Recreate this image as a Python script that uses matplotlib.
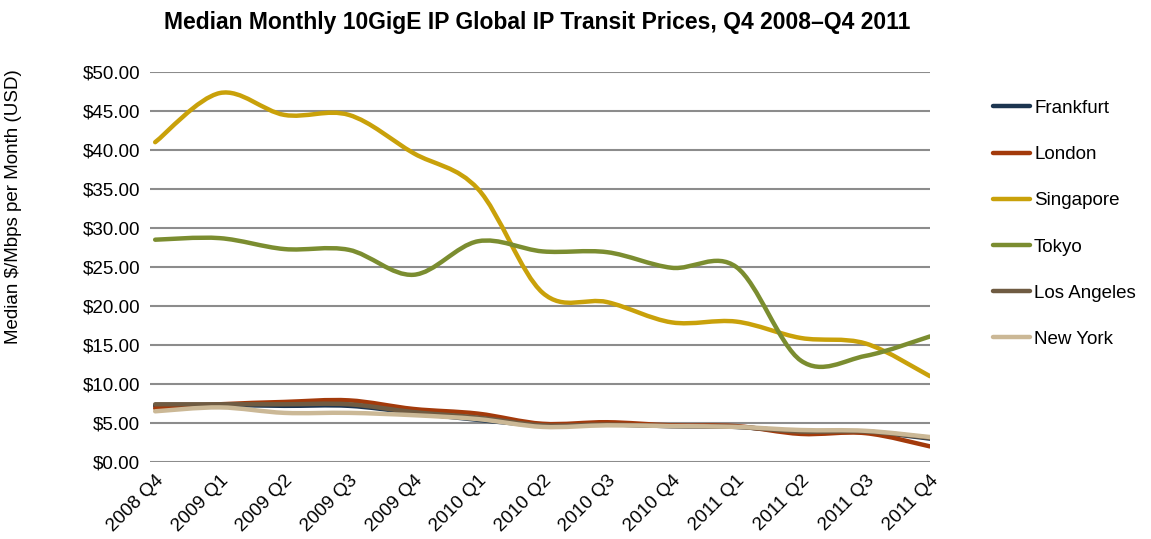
import numpy as np
from matplotlib import pyplot as plt
from matplotlib.path import Path
from matplotlib.patches import PathPatch
from matplotlib.lines import Line2D

plt.rcParams['font.family'] = ['Liberation Sans', 'DejaVu Sans']

quarters = ['2008 Q4', '2009 Q1', '2009 Q2', '2009 Q3', '2009 Q4', '2010 Q1', '2010 Q2',
            '2010 Q3', '2010 Q4', '2011 Q1', '2011 Q2', '2011 Q3', '2011 Q4']

frankfurt = [7.2, 7.3, 7.2, 7.2, 6.3, 5.4, 4.7, 4.8, 4.6, 4.5, 3.9, 3.9, 3.0]
london = [6.9, 7.4, 7.7, 7.9, 6.8, 6.2, 4.9, 5.1, 4.7, 4.6, 3.6, 3.7, 2.0]
singapore = [41.0, 47.3, 44.5, 44.5, 39.6, 35.0, 21.7, 20.5, 17.9, 18.0, 15.9, 15.2, 11.0]
tokyo = [28.5, 28.7, 27.3, 27.2, 24.0, 28.3, 27.0, 26.9, 24.9, 25.0, 13.0, 13.6, 16.1]
los_angeles = [7.4, 7.4, 7.4, 7.4, 6.4, 5.7, 4.7, 4.8, 4.6, 4.5, 3.9, 3.9, 3.1]
new_york = [6.5, 7.0, 6.3, 6.3, 6.0, 5.5, 4.5, 4.7, 4.6, 4.5, 4.1, 4.0, 3.2]

series = [('Frankfurt', frankfurt, '#1c3550'),
          ('London', london, '#a33a0b'),
          ('Singapore', singapore, '#c9a10a'),
          ('Tokyo', tokyo, '#7b8d30'),
          ('Los Angeles', los_angeles, '#6f5b42'),
          ('New York', new_york, '#cbb896')]


def smooth_path(xs, ys):
    # catmull-rom through the data points as cubic bezier segments
    pts = np.column_stack([xs, ys]).astype(float)
    ext = np.vstack([pts[0], pts, pts[-1]])
    verts = [pts[0]]
    codes = [Path.MOVETO]
    for i in range(len(pts) - 1):
        p0, p1, p2, p3 = ext[i], ext[i + 1], ext[i + 2], ext[i + 3]
        verts += [p1 + (p2 - p0) / 6, p2 - (p3 - p1) / 6, p2]
        codes += [Path.CURVE4] * 3
    return Path(verts, codes)


fig = plt.figure(figsize=(11.51, 5.39), dpi=100)
ax = fig.add_axes([150 / 1151, 1 - 462 / 539, 780 / 1151, 390 / 539])

x = np.arange(len(quarters))
handles = []
for name, vals, col in series:
    ax.add_patch(PathPatch(smooth_path(x, vals), fill=False, edgecolor=col, lw=3.2,
                           capstyle='round', joinstyle='round', zorder=3))
    handles.append(Line2D([], [], color=col, lw=3.2, solid_capstyle='round', label=name))

ax.set_xlim(-0.08, 12)
ax.set_ylim(0, 50)
ax.set_yticks(np.arange(0, 51, 5))
ax.set_yticklabels(['$%.2f' % v for v in np.arange(0, 51, 5)], fontsize=13.5)
ax.set_xticks(x)
ax.set_xticklabels(quarters, rotation=45, ha='right', rotation_mode='anchor', fontsize=13.5)
ax.tick_params(length=0, pad=7)
ax.yaxis.grid(True, color='#8c8c8c', lw=1.5)
ax.set_axisbelow(True)
for s in ax.spines.values():
    s.set_visible(False)

ax.set_ylabel('Median $/Mbps per Month (USD)', fontsize=13.5)
ax.yaxis.set_label_coords(-128 / 780, 0.655)
fig.text(537 / 1151, 1 - 22 / 539, 'Median Monthly 10GigE IP Global IP Transit Prices, Q4 2008\u2013Q4 2011',
         ha='center', va='center', fontsize=16.5, fontweight='bold')

fig.legend(handles=handles, loc='upper left', bbox_to_anchor=(976 / 1151, 1 - 83 / 539),
           frameon=False, fontsize=13.5, labelspacing=1.55, handlelength=2.0, handletextpad=0.2)

fig.savefig('out.png', dpi=100)
